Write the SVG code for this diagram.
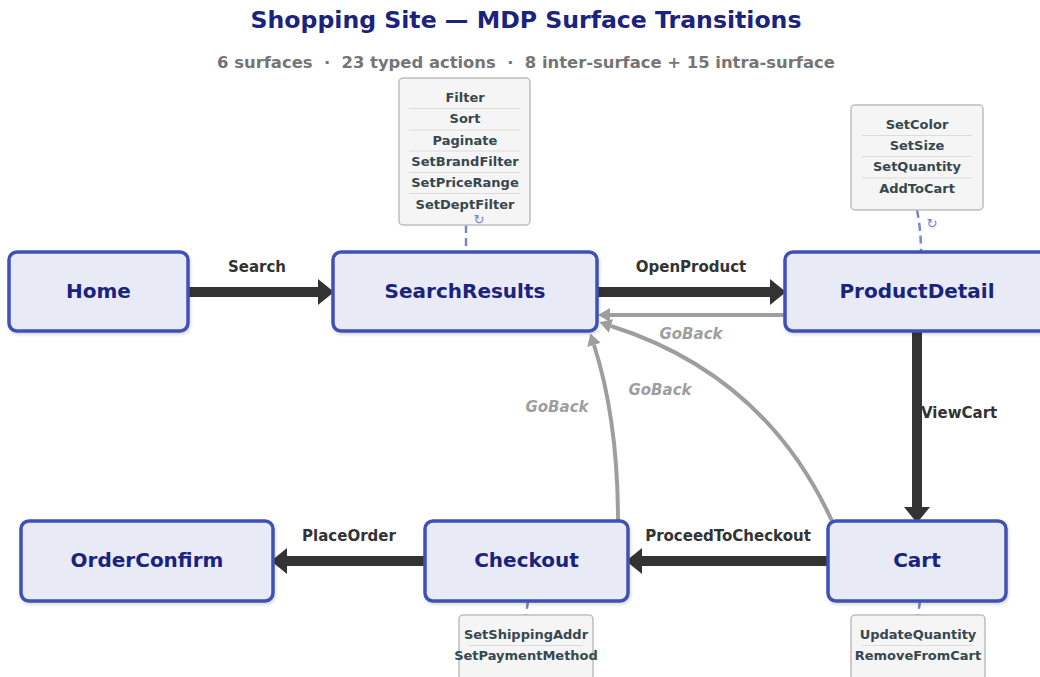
<svg xmlns="http://www.w3.org/2000/svg" width="1040" height="677" viewBox="0 0 1040 677">
<style>
.node rect{fill:#e8eaf6;stroke:#3f51b5;stroke-width:3.5}
.node text{font-family:"DejaVu Sans",sans-serif;font-weight:bold;font-size:20px;fill:#1a237e;text-anchor:middle}
.elabel{font-family:"DejaVu Sans",sans-serif;font-weight:bold;font-size:15px;fill:#333}
.glabel{font-family:"DejaVu Sans",sans-serif;font-weight:bold;font-style:italic;font-size:15px;fill:#9e9e9e}
.main{stroke:#333;stroke-width:10;fill:none}
.back{stroke:#9e9e9e;stroke-width:4;fill:none}
.dash{stroke:#7986cb;stroke-width:2.5;stroke-dasharray:8,5;fill:none}
.abox rect{fill:#f5f5f5;stroke:#bdbdbd;stroke-width:1.5}
.abox line{stroke:#dcdcdc;stroke-width:1}
.abox text{font-family:"DejaVu Sans",sans-serif;font-weight:bold;font-size:13px;fill:#37474f;text-anchor:middle}
.loop{font-family:"DejaVu Sans",sans-serif;font-size:13px;fill:#7986cb;text-anchor:middle}
</style>
<defs>
<marker id="ah" markerUnits="userSpaceOnUse" markerWidth="16" markerHeight="26" viewBox="0 0 16 26" refX="0" refY="13" orient="auto">
<path d="M0,0 L16,13 L0,26 z" fill="#333"/>
</marker>
<marker id="ag" markerUnits="userSpaceOnUse" markerWidth="12" markerHeight="14" viewBox="0 0 12 14" refX="0" refY="7" orient="auto">
<path d="M0,0 L12,7 L0,14 z" fill="#9e9e9e"/>
</marker>
<filter id="sh" x="-10%" y="-10%" width="120%" height="130%">
<feDropShadow dx="1" dy="2" stdDeviation="1.5" flood-color="#000" flood-opacity="0.15"/>
</filter>
</defs>
<rect width="1040" height="677" fill="#fff"/>
<text x="526" y="28" text-anchor="middle" font-family="DejaVu Sans, sans-serif" font-weight="bold" font-size="23.6" fill="#1a237e">Shopping Site — MDP Surface Transitions</text>
<text x="526" y="68" text-anchor="middle" font-family="DejaVu Sans, sans-serif" font-weight="bold" font-size="16.4" fill="#757575" xml:space="preserve" style="white-space:pre">6 surfaces  ·  23 typed actions  ·  8 inter-surface + 15 intra-surface</text>

<g id="intra-actions">
<path class="dash" d="M466,225 L466,252"/>
<path class="dash" d="M917,210 Q921,230 921,252"/>
<path class="dash" d="M528,601 L526,615"/>
<path class="dash" d="M920,601 L918,615"/>
<text class="loop" x="540" y="602">↻</text>
<text class="loop" x="932" y="602">↻</text>
<g id="actions-search" class="abox">
<rect x="399" y="78" width="131" height="147" rx="4"/>
<line x1="409" y1="108.5" x2="520" y2="108.5"/>
<line x1="409" y1="130" x2="520" y2="130"/>
<line x1="409" y1="151" x2="520" y2="151"/>
<line x1="409" y1="172.5" x2="520" y2="172.5"/>
<line x1="409" y1="193.5" x2="520" y2="193.5"/>
<text x="465" y="102">Filter</text>
<text x="465" y="123">Sort</text>
<text x="465" y="145">Paginate</text>
<text x="465" y="166">SetBrandFilter</text>
<text x="465" y="187">SetPriceRange</text>
<text x="465" y="209">SetDeptFilter</text>
</g>
<g id="actions-product" class="abox">
<rect x="851" y="105" width="132" height="105" rx="4"/>
<line x1="862" y1="135.5" x2="972" y2="135.5"/>
<line x1="862" y1="156.5" x2="972" y2="156.5"/>
<line x1="862" y1="178" x2="972" y2="178"/>
<text x="917" y="129">SetColor</text>
<text x="917" y="150">SetSize</text>
<text x="917" y="171">SetQuantity</text>
<text x="917" y="193">AddToCart</text>
</g>
<g id="actions-checkout" class="abox">
<rect x="459" y="615" width="134" height="64" rx="4"/>
<line x1="469" y1="645.5" x2="583" y2="645.5"/>
<text x="526" y="639">SetShippingAddr</text>
<text x="526" y="660">SetPaymentMethod</text>
</g>
<g id="actions-cart" class="abox">
<rect x="851" y="615" width="134" height="64" rx="4"/>
<line x1="862" y1="645.5" x2="974" y2="645.5"/>
<text x="918" y="639">UpdateQuantity</text>
<text x="918" y="660">RemoveFromCart</text>
</g>
<text class="loop" x="479" y="224">↻</text>
<text class="loop" x="932" y="228">↻</text>
</g>

<g id="connectors">
<path class="main" d="M188,292 L318,292" marker-end="url(#ah)"/>
<text class="elabel" x="257" y="272" text-anchor="middle">Search</text>
<path class="main" d="M597,292 L770,292" marker-end="url(#ah)"/>
<text class="elabel" x="691" y="272" text-anchor="middle">OpenProduct</text>
<path class="main" d="M917,331 L917,507" marker-end="url(#ah)"/>
<text class="elabel" x="921" y="418">ViewCart</text>
<path class="main" d="M828,561 L642,561" marker-end="url(#ah)"/>
<text class="elabel" x="728" y="541" text-anchor="middle">ProceedToCheckout</text>
<path class="main" d="M425,561 L287,561" marker-end="url(#ah)"/>
<text class="elabel" x="349" y="541" text-anchor="middle">PlaceOrder</text>
<path class="back" d="M785,315 L610,315" marker-end="url(#ag)"/>
<text class="glabel" x="691" y="339" text-anchor="middle">GoBack</text>
<path class="back" d="M618,521 Q618,420 594,345" marker-end="url(#ag)"/>
<text class="glabel" x="557" y="412" text-anchor="middle">GoBack</text>
<path class="back" d="M832,521 Q765,375 611,326" marker-end="url(#ag)"/>
<text class="glabel" x="660" y="395" text-anchor="middle">GoBack</text>
</g>

<g id="node-home" class="node"><rect x="9" y="252" width="179" height="79" rx="8" filter="url(#sh)"/><text x="98.5" y="298">Home</text></g>
<g id="node-searchresults" class="node"><rect x="333" y="252" width="264" height="79" rx="8" filter="url(#sh)"/><text x="465" y="298">SearchResults</text></g>
<g id="node-productdetail" class="node"><rect x="785" y="252" width="264" height="79" rx="8" filter="url(#sh)"/><text x="917" y="298">ProductDetail</text></g>
<g id="node-cart" class="node"><rect x="828" y="521" width="178" height="80" rx="8" filter="url(#sh)"/><text x="917" y="567">Cart</text></g>
<g id="node-checkout" class="node"><rect x="425" y="521" width="203" height="80" rx="8" filter="url(#sh)"/><text x="526.5" y="567">Checkout</text></g>
<g id="node-orderconfirm" class="node"><rect x="21" y="521" width="252" height="80" rx="8" filter="url(#sh)"/><text x="147" y="567">OrderConfirm</text></g>
</svg>
